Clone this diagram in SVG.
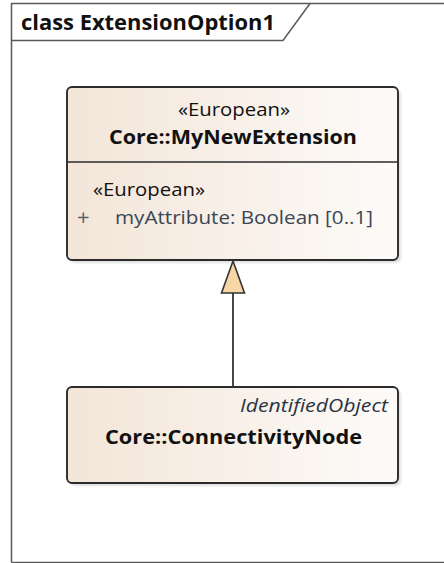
<svg xmlns="http://www.w3.org/2000/svg" width="444" height="563" viewBox="0 0 444 563">
  <style>
    .frame { fill: none; stroke: #595959; stroke-width: 1.5; }
    .cls { fill: url(#classFill); stroke: #2b2b2b; stroke-width: 1.9; }
    .shadow { fill: #000; opacity: 0.12; }
    .txt { font-family: "Open Sans", "DejaVu Sans", sans-serif; fill: #111; }
    .title { font-size: 21px; font-weight: bold; }
    .name { font-size: 20px; font-weight: bold; }
    .stereo { font-size: 19px; }
    .attr { font-size: 19px; fill: #3a4656; }
    .plus { font-size: 22px; fill: #55606c; }
    .ital { font-size: 19px; font-style: italic; fill: #2a3340; }
    .edge { stroke: #333; stroke-width: 1.8; fill: none; }
    .gen { fill: #f8d7a6; stroke: #333; stroke-width: 1.6; stroke-linejoin: miter; }
  </style>
  <defs>
    <linearGradient id="classFill" x1="0" y1="0" x2="1" y2="0">
      <stop offset="0" stop-color="#f3e5d8"/>
      <stop offset="1" stop-color="#fdfbf9"/>
    </linearGradient>
    <filter id="soft" x="-5%" y="-5%" width="115%" height="115%">
      <feGaussianBlur stdDeviation="1.2"/>
    </filter>
  </defs>

  <rect width="444" height="563" fill="#fff"/>

  <!-- diagram frame with name tab -->
  <g id="frame">
    <path class="frame" d="M11.5,562.5 V3.5 H444"/>
    <path class="frame" d="M11.5,40.5 H283 L310,3.5"/>
    <path class="frame" d="M11.5,562.5 H444"/>
    <text class="txt title" x="21" y="30" textLength="254" lengthAdjust="spacingAndGlyphs">class ExtensionOption1</text>
  </g>

  <!-- Core::MyNewExtension -->
  <g id="MyNewExtension">
    <rect class="shadow" x="70" y="90" width="331" height="173" rx="5" filter="url(#soft)"/>
    <rect class="cls" x="67" y="87" width="331" height="173" rx="5"/>
    <line x1="67" y1="162" x2="398" y2="162" stroke="#2b2b2b" stroke-width="1.5"/>
    <text class="txt stereo" x="178" y="116" textLength="112" lengthAdjust="spacingAndGlyphs">«European»</text>
    <text class="txt name" x="109" y="144" textLength="248" lengthAdjust="spacingAndGlyphs">Core::MyNewExtension</text>
    <text class="txt stereo" x="93" y="196" textLength="112" lengthAdjust="spacingAndGlyphs">«European»</text>
    <text class="txt plus" x="77" y="225">+</text>
    <text class="txt attr" x="115" y="224" textLength="258" lengthAdjust="spacingAndGlyphs">myAttribute: Boolean [0..1]</text>
  </g>

  <!-- Core::ConnectivityNode -->
  <g id="ConnectivityNode">
    <rect class="shadow" x="70" y="390" width="331" height="96" rx="5" filter="url(#soft)"/>
    <rect class="cls" x="67" y="387" width="331" height="96" rx="5"/>
    <text class="txt ital" x="240" y="412" textLength="148" lengthAdjust="spacingAndGlyphs">IdentifiedObject</text>
    <text class="txt name" x="105" y="444" textLength="257" lengthAdjust="spacingAndGlyphs">Core::ConnectivityNode</text>
  </g>

  <!-- generalization: ConnectivityNode -> MyNewExtension -->
  <g id="connectors">
    <line class="edge" x1="233" y1="387" x2="233" y2="293"/>
    <polygon class="gen" points="233,261 244.5,293 221.5,293"/>
  </g>
</svg>
